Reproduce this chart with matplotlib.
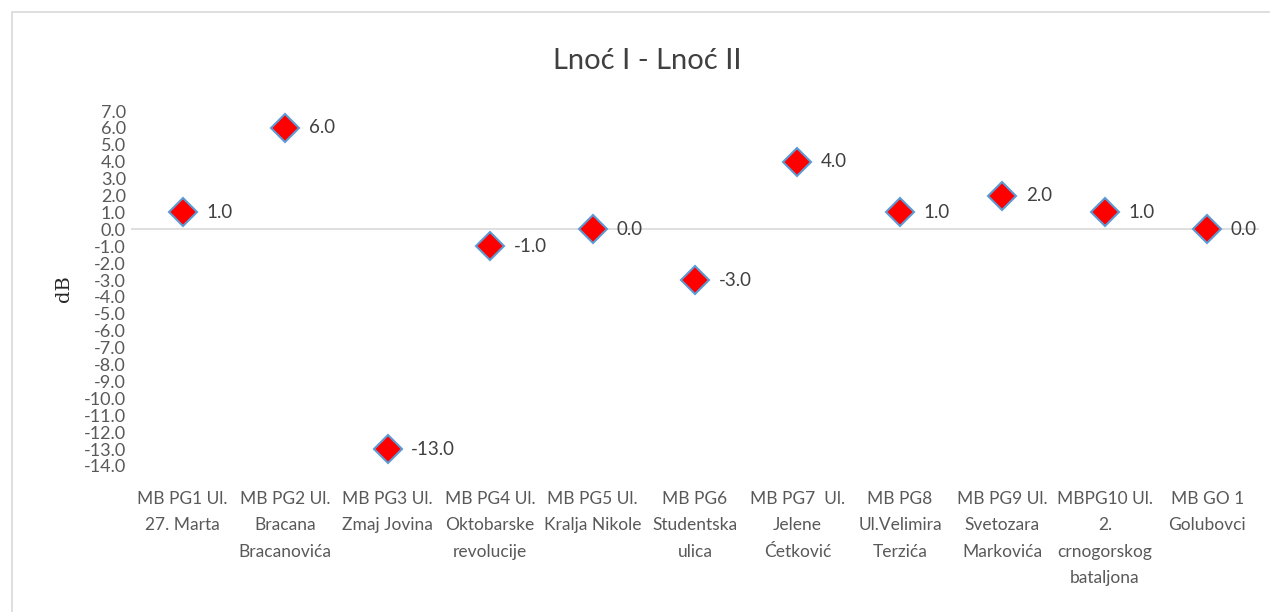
import matplotlib.pyplot as plt
from matplotlib.patches import Rectangle

categories = [
    'MB PG1 Ul.\n27. Marta',
    'MB PG2 Ul.\nBracana\nBracanovića',
    'MB PG3 Ul.\nZmaj Jovina',
    'MB PG4 Ul.\nOktobarske\nrevolucije',
    'MB PG5 Ul.\nKralja Nikole',
    'MB PG6\nStudentska\nulica',
    'MB PG7  Ul.\nJelene\nĆetković',
    'MB PG8\nUl.Velimira\nTerzića',
    'MB PG9 Ul.\nSvetozara\nMarkovića',
    'MBPG10 Ul.\n2.\ncrnogorskog\nbataljona',
    'MB GO 1\nGolubovci',
]
values = [1.0, 6.0, -13.0, -1.0, 0.0, -3.0, 4.0, 1.0, 2.0, 1.0, 0.0]
yticks = list(range(-14, 8))

plt.rcParams['font.family'] = ['Lato', 'DejaVu Sans']

fig = plt.figure(figsize=(12.7, 6.12), dpi=100)
fig.patches.append(Rectangle((12 / 1270, -0.1), 1.2, 1 - 12 / 612 + 0.1,
                             transform=fig.transFigure, fill=False,
                             edgecolor='#d9d9d9', linewidth=1.2))

ax = fig.add_axes([0.1035, 0.2386, 0.8875, 0.58])
x = list(range(len(values)))
ax.plot(x, values, linestyle='none', marker='D', markersize=14,
        markerfacecolor='#ff0000', markeredgecolor='#5b9bd5', markeredgewidth=1.5,
        zorder=3)
for xi, v in zip(x, values):
    ax.annotate(f'{v:.1f}', (xi, v), xytext=(17, 0), textcoords='offset points',
                va='center', ha='left', fontsize=13.5, color='#404040')

ax.axhline(0, color='#d9d9d9', linewidth=1.2, zorder=1)
ax.set_xlim(-0.5, len(values) - 0.5)
ax.set_ylim(-14, 7)
ax.set_yticks(yticks)
ax.set_yticklabels([f'{t:.1f}' for t in yticks], fontsize=13, color='#595959')
ax.set_xticks(x)
ax.set_xticklabels(categories, fontsize=12.5, color='#595959', linespacing=1.8,
                   va='top')
ax.tick_params(axis='both', length=0)
ax.tick_params(axis='x', pad=18)
ax.tick_params(axis='y', pad=4)
for s in ax.spines.values():
    s.set_visible(False)

ax.set_ylabel('dB', fontsize=14, family='DejaVu Serif', color='#262626', labelpad=8)
fig.text(0.51, 0.9, 'Lnoć I - Lnoć II', ha='center', va='center', fontsize=21,
         color='#404040')

fig.savefig('out.png', dpi=100)
